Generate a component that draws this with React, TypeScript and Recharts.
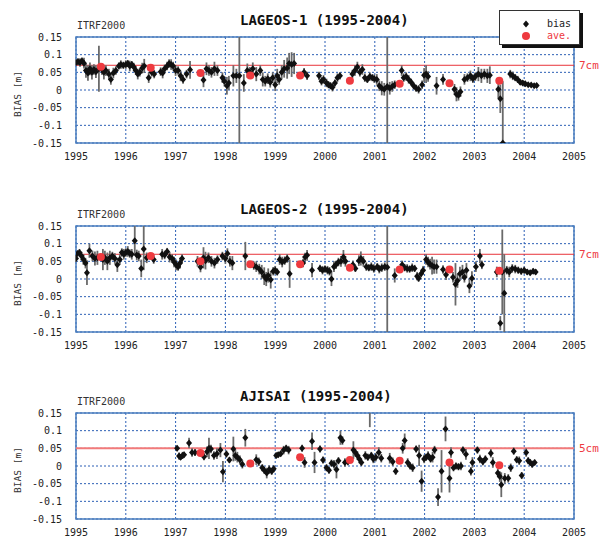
import {
  ComposedChart,
  Scatter,
  ErrorBar,
  XAxis,
  YAxis,
  CartesianGrid,
  ReferenceLine,
  ReferenceArea,
} from "recharts";

// axis ticks
const YEAR_TICKS = [1995, 1996, 1997, 1998, 1999, 2000, 2001, 2002, 2003, 2004, 2005];
const BIAS_TICKS = [-0.15, -0.1, -0.05, 0, 0.05, 0.1, 0.15];

// yearly averages (plotted at mid-year)
const AVE_YEARS = [1995.5, 1996.5, 1997.5, 1998.5, 1999.5, 2000.5, 2001.5, 2002.5, 2003.5];
const AJISAI_AVE_YEARS = [1997.5, 1998.5, 1999.5, 2000.5, 2001.5, 2002.5, 2003.5];
const LAGEOS1_AVE = [0.066, 0.063, 0.048, 0.041, 0.041, 0.026, 0.018, 0.019, 0.026];
const LAGEOS2_AVE = [0.062, 0.065, 0.05, 0.042, 0.042, 0.032, 0.027, 0.027, 0.023];
const AJISAI_AVE = [0.037, 0.007, 0.025, 0.017, 0.015, 0.01, 0.002];

// LAGEOS-1 biases; err is [down, up] where a bar runs off the plot
const LAGEOS1_YEAR = [
  1995.0, 1995.04, 1995.08, 1995.12, 1995.16, 1995.2, 1995.24, 1995.28, 1995.32, 1995.36, 1995.4, 1995.46,
  1995.52, 1995.56, 1995.6, 1995.66, 1995.7, 1995.75, 1995.8, 1995.86, 1995.9, 1995.95, 1996.0, 1996.04,
  1996.08, 1996.12, 1996.16, 1996.2, 1996.24, 1996.28, 1996.33, 1996.37, 1996.46, 1996.52, 1996.57, 1996.7,
  1996.74, 1996.78, 1996.83, 1996.87, 1996.91, 1996.95, 1997.0, 1997.05, 1997.1, 1997.15, 1997.22, 1997.29,
  1997.56, 1997.62, 1997.67, 1997.72, 1997.78, 1997.84, 1997.94, 1997.98, 1998.03, 1998.07, 1998.16, 1998.22,
  1998.28, 1998.37, 1998.44, 1998.49, 1998.55, 1998.62, 1998.7, 1998.75, 1998.8, 1998.85, 1998.9, 1998.95,
  1999.0, 1999.04, 1999.08, 1999.13, 1999.18, 1999.24, 1999.28, 1999.33, 1999.38, 1999.58, 1999.64, 1999.88,
  1999.93, 1999.97, 2000.03, 2000.07, 2000.11, 2000.15, 2000.2, 2000.25, 2000.3, 2000.55, 2000.6, 2000.65,
  2000.7, 2000.75, 2000.8, 2000.85, 2000.9, 2000.95, 2000.99, 2001.04, 2001.09, 2001.14, 2001.19, 2001.25,
  2001.3, 2001.35, 2001.4, 2001.54, 2001.58, 2001.63, 2001.68, 2001.73, 2001.78, 2001.83, 2001.88, 2001.95,
  2001.99, 2002.03, 2002.07, 2002.24, 2002.37, 2002.6, 2002.64, 2002.68, 2002.72, 2002.8, 2002.86, 2002.92,
  2002.97, 2003.02, 2003.08, 2003.14, 2003.2, 2003.26, 2003.31, 2003.48, 2003.52, 2003.57, 2003.72, 2003.77,
  2003.82, 2003.87, 2003.92, 2003.97, 2004.02, 2004.08, 2004.14, 2004.2, 2004.25,
];
const LAGEOS1_BIAS = [
  0.078, 0.08, 0.078, 0.082, 0.076, 0.055, 0.048, 0.06, 0.05, 0.058, 0.052, 0.06,
  0.058, 0.05, 0.055, 0.045, 0.03, 0.048, 0.055, 0.068, 0.072, 0.07, 0.072, 0.075,
  0.068, 0.072, 0.065, 0.055, 0.045, 0.05, 0.062, 0.068, 0.035, 0.05, 0.045, 0.052,
  0.048, 0.06, 0.068, 0.075, 0.072, 0.068, 0.055, 0.055, 0.04, 0.03, 0.045, 0.057,
  0.028, 0.06, 0.055, 0.05, 0.06, 0.055, 0.035, 0.025, 0.012, 0.02, 0.04, 0.04,
  0.04, 0.02, 0.055, 0.05, 0.06, 0.045, 0.055, 0.03, 0.025, 0.032, 0.022, 0.035,
  0.015, 0.04, 0.03, 0.05, 0.06, 0.062, 0.075, 0.072, 0.075, 0.05, 0.04, 0.04,
  0.025, 0.03, 0.02, 0.015, 0.012, 0.008, 0.02, 0.035, 0.04, 0.045, 0.055, 0.065,
  0.05, 0.058, 0.035, 0.03, 0.038, 0.035, 0.032, 0.03, 0.012, 0.005, 0.002, 0.01,
  0.005, 0.01, 0.015, 0.055, 0.035, 0.038, 0.03, 0.022, 0.012, 0.005, 0.002, 0.015,
  0.042, 0.045, 0.038, 0.012, 0.03, 0.002, -0.012, -0.015, -0.005, 0.03, 0.035, 0.04,
  0.032, 0.038, 0.045, 0.04, 0.045, 0.04, 0.042, 0.002, -0.025, -0.15, 0.045, 0.04,
  0.035, 0.03, 0.022, 0.02, 0.018, 0.015, 0.014, 0.012, 0.013,
];
const LAGEOS1_ERR: (number | number[])[] = [
  0.008, 0.01, 0.012, 0.01, 0.015, 0.02, 0.022, 0.018, 0.02, 0.015, 0.018, 0.065,
  0.015, 0.02, 0.015, 0.015, 0.015, 0.015, 0.012, 0.01, 0.012, 0.01, 0.012, 0.01,
  0.015, 0.01, 0.012, 0.012, 0.015, 0.012, 0.015, 0.02, 0.015, 0.012, 0.012, 0.012,
  0.015, 0.012, 0.012, 0.012, 0.015, 0.012, 0.015, 0.012, 0.015, 0.012, 0.012, 0.025,
  0.02, 0.018, 0.015, 0.015, 0.02, 0.015, 0.015, 0.015, 0.025, 0.02, 0.03, 0.02,
  [0.19, 0.11], 0.025, 0.02, 0.015, 0.018, 0.02, 0.015, 0.02, 0.015, 0.015, 0.015, 0.015,
  0.018, 0.02, 0.015, 0.02, 0.025, 0.03, 0.03, 0.035, 0.03, 0.012, 0.012, 0.012,
  0.012, 0.012, 0.012, 0.01, 0.01, 0.012, 0.01, 0.012, 0.01, 0.012, 0.015, 0.015,
  0.012, 0.015, 0.012, 0.01, 0.012, 0.01, 0.012, 0.015, 0.015, 0.02, 0.018, [0.16, 0.14],
  0.018, 0.015, 0.012, 0.015, 0.012, 0.012, 0.012, 0.01, 0.01, 0.01, 0.012, 0.012,
  0.02, 0.025, 0.015, 0.025, 0.015, 0.015, 0.02, 0.015, 0.015, 0.015, 0.012, 0.015,
  0.012, 0.012, 0.02, 0.02, 0.015, 0.02, 0.025, 0.025, 0.04, [0, 0.175], 0.012, 0.012,
  0.01, 0.01, 0.008, 0.008, 0.008, 0.006, 0.006, 0.006, 0.006,
];

// LAGEOS-2 biases
const LAGEOS2_YEAR = [
  1995.0, 1995.03, 1995.07, 1995.11, 1995.15, 1995.19, 1995.22, 1995.27, 1995.33, 1995.38, 1995.43, 1995.54,
  1995.58, 1995.63, 1995.68, 1995.73, 1995.78, 1995.83, 1995.88, 1995.92, 1995.96, 1996.0, 1996.04, 1996.08,
  1996.12, 1996.18, 1996.22, 1996.26, 1996.31, 1996.36, 1996.42, 1996.56, 1996.73, 1996.78, 1996.83, 1996.88,
  1996.93, 1996.97, 1997.01, 1997.05, 1997.09, 1997.13, 1997.44, 1997.5, 1997.56, 1997.6, 1997.66, 1997.72,
  1997.78, 1997.84, 1997.94, 1998.0, 1998.04, 1998.09, 1998.14, 1998.4, 1998.57, 1998.62, 1998.68, 1998.73,
  1998.78, 1998.82, 1998.86, 1998.91, 1998.96, 1999.0, 1999.04, 1999.09, 1999.14, 1999.19, 1999.24, 1999.29,
  1999.56, 1999.6, 1999.64, 1999.74, 1999.9, 1999.95, 2000.0, 2000.05, 2000.09, 2000.13, 2000.18, 2000.22,
  2000.27, 2000.32, 2000.37, 2000.41, 2000.56, 2000.61, 2000.68, 2000.72, 2000.77, 2000.83, 2000.88, 2000.93,
  2000.98, 2001.05, 2001.09, 2001.14, 2001.2, 2001.25, 2001.4, 2001.55, 2001.6, 2001.65, 2001.7, 2001.75,
  2001.8, 2001.85, 2001.88, 2001.93, 2001.97, 2002.03, 2002.07, 2002.11, 2002.15, 2002.19, 2002.24, 2002.37,
  2002.43, 2002.57, 2002.62, 2002.66, 2002.71, 2002.76, 2002.8, 2002.84, 2002.9, 2002.95, 2003.03, 2003.11,
  2003.15, 2003.45, 2003.52, 2003.56, 2003.6, 2003.65, 2003.7, 2003.76, 2003.82, 2003.88, 2003.94, 2004.0,
  2004.06, 2004.12, 2004.18, 2004.23,
];
const LAGEOS2_BIAS = [
  0.058, 0.072, 0.075, 0.065, 0.055, 0.045, 0.018, 0.08, 0.065, 0.058, 0.06, 0.055,
  0.06, 0.05, 0.06, 0.065, 0.058, 0.04, 0.055, 0.075, 0.07, 0.075, 0.078, 0.072,
  0.07, 0.108, 0.068, 0.065, 0.03, 0.085, 0.06, 0.055, 0.07, 0.068, 0.078, 0.062,
  0.058, 0.048, 0.04, 0.035, 0.045, 0.058, 0.05, 0.034, 0.06, 0.052, 0.06, 0.05,
  0.045, 0.055, 0.065, 0.058, 0.072, 0.05, 0.045, 0.065, 0.038, 0.035, 0.028, 0.02,
  0.008, 0.0, 0.01, -0.002, 0.022, 0.025, 0.02, 0.055, 0.048, 0.052, 0.058, 0.015,
  0.045, 0.062, 0.067, 0.025, 0.03, 0.025, 0.028, 0.025, 0.022, 0.0, 0.035, 0.04,
  0.048, 0.05, 0.062, 0.05, 0.04, 0.03, 0.052, 0.058, 0.05, 0.035, 0.032, 0.035,
  0.03, 0.035, 0.028, 0.032, 0.035, 0.033, 0.01, 0.04, 0.032, 0.03, 0.028, 0.032,
  0.03, 0.008, 0.002, 0.015, 0.025, 0.055, 0.048, 0.042, 0.038, 0.035, 0.035, 0.027,
  0.012, 0.005, -0.015, -0.005, 0.015, 0.02, 0.005, 0.025, -0.02, 0.002, 0.035, 0.065,
  0.04, 0.02, -0.125, 0.02, -0.04, 0.025, 0.02, 0.03, 0.028, 0.025, 0.022, 0.025,
  0.02, 0.018, 0.022, 0.02,
];
const LAGEOS2_ERR: (number | number[])[] = [
  0.01, 0.008, 0.01, 0.012, 0.015, 0.015, 0.035, 0.02, 0.015, 0.02, 0.02, 0.03,
  0.02, 0.025, 0.02, 0.012, 0.015, 0.02, 0.015, 0.012, 0.015, 0.012, 0.015, 0.012,
  0.015, [0.04, 0.042], 0.015, 0.015, 0.025, [0.06, 0.065], 0.015, 0.012, 0.015, 0.012, 0.01, 0.015,
  0.012, 0.015, 0.015, 0.012, 0.015, 0.012, 0.015, 0.015, 0.03, 0.025, 0.015, 0.015,
  0.015, 0.012, 0.012, 0.015, 0.015, 0.015, 0.02, 0.04, 0.012, 0.015, 0.015, 0.02,
  0.025, 0.02, 0.02, 0.025, 0.012, 0.012, 0.01, 0.015, 0.015, 0.012, 0.012, 0.04,
  0.012, 0.012, 0.015, 0.02, 0.01, 0.012, 0.01, 0.012, 0.012, 0.02, 0.015, 0.012,
  0.012, 0.015, 0.02, 0.015, 0.012, 0.01, 0.015, 0.02, 0.015, 0.012, 0.01, 0.012,
  0.012, 0.01, 0.012, 0.012, 0.012, [0.183, 0.117], 0.02, 0.012, 0.01, 0.012, 0.01, 0.012,
  0.01, 0.012, 0.01, 0.01, 0.012, 0.015, 0.015, 0.015, 0.025, 0.02, 0.02, 0.012,
  0.015, 0.015, 0.06, 0.02, 0.02, 0.02, 0.015, 0.02, 0.02, 0.02, 0.015, 0.02,
  0.012, 0.015, 0.02, 0.12, [0.11, 0.11], 0.012, 0.015, 0.012, 0.012, 0.01, 0.01, 0.01,
  0.008, 0.008, 0.008, 0.008,
];

// AJISAI biases
const AJISAI_YEAR = [
  1997.03, 1997.07, 1997.1, 1997.14, 1997.17, 1997.27, 1997.33, 1997.39, 1997.57, 1997.63, 1997.67, 1997.71,
  1997.77, 1997.83, 1997.9, 1997.95, 1998.02, 1998.08, 1998.16, 1998.2, 1998.24, 1998.29, 1998.34, 1998.4,
  1998.62, 1998.67, 1998.74, 1998.78, 1998.83, 1998.88, 1998.93, 1998.97, 1999.02, 1999.06, 1999.11, 1999.17,
  1999.22, 1999.27, 1999.54, 1999.59, 1999.74, 1999.79, 1999.9, 1999.96, 2000.03, 2000.08, 2000.13, 2000.18,
  2000.23, 2000.27, 2000.31, 2000.35, 2000.4, 2000.46, 2000.57, 2000.61, 2000.65, 2000.69, 2000.73, 2000.81,
  2000.86, 2000.9, 2000.93, 2000.97, 2001.02, 2001.08, 2001.13, 2001.3, 2001.36, 2001.42, 2001.56, 2001.6,
  2001.66, 2001.71, 2001.76, 2001.83, 2001.89, 2001.94, 2001.99, 2002.03, 2002.07, 2002.12, 2002.16, 2002.2,
  2002.27, 2002.34, 2002.42, 2002.5, 2002.53, 2002.58, 2002.63, 2002.68, 2002.73, 2002.77, 2002.83, 2002.93,
  2002.96, 2003.06, 2003.11, 2003.17, 2003.22, 2003.33, 2003.37, 2003.47, 2003.51, 2003.54, 2003.61, 2003.68,
  2003.73, 2003.79, 2003.85, 2003.9, 2003.95, 2004.04, 2004.08, 2004.12, 2004.16, 2004.21,
];
const AJISAI_BIAS = [
  0.05, 0.028, 0.025, 0.03, 0.032, 0.065, 0.038, 0.038, 0.026, 0.04, 0.05, 0.048,
  0.03, 0.035, 0.045, -0.016, 0.034, 0.017, 0.048, 0.03, 0.025, 0.018, 0.005, 0.08,
  0.018, 0.012, -0.005, -0.012, -0.02, -0.01, -0.015, -0.008, 0.03, 0.032, 0.035, 0.045,
  0.05, 0.045, 0.05, 0.01, 0.07, 0.01, 0.048, 0.017, -0.005, -0.012, 0.008, 0.005,
  -0.01, 0.015, 0.08, 0.072, 0.01, 0.012, 0.045, 0.038, 0.03, 0.02, 0.01, 0.03,
  0.025, 0.16, 0.03, 0.02, 0.025, 0.038, 0.022, 0.022, 0.012, -0.015, 0.05, 0.072,
  0.01, 0.0, -0.005, 0.048, 0.03, -0.043, 0.02, 0.025, 0.03, 0.02, 0.025, 0.045,
  -0.088, -0.015, 0.105, -0.035, 0.038, -0.005, 0.0, -0.002, 0.0, 0.045, 0.033, -0.015,
  0.01, 0.045, 0.02, 0.012, 0.02, 0.036, 0.01, -0.02, -0.03, -0.053, -0.035, -0.035,
  -0.005, 0.042, 0.018, 0.015, -0.027, 0.038, 0.015, 0.01, 0.005, 0.01,
];
const AJISAI_ERR: (number | number[])[] = [
  0.008, 0.01, 0.008, 0.01, 0.008, 0.015, 0.012, 0.01, 0.01, 0.015, 0.03, 0.012,
  0.012, 0.015, 0.02, 0.03, 0.01, 0.008, 0.035, 0.015, 0.015, 0.012, 0.012, 0.025,
  0.015, 0.012, 0.01, 0.01, 0.015, 0.012, 0.01, 0.01, 0.008, 0.008, 0.008, 0.012,
  0.01, 0.012, 0.01, 0.015, 0.025, 0.03, 0.01, 0.01, 0.01, 0.01, 0.01, 0.012,
  0.025, 0.01, 0.02, 0.012, 0.012, 0.01, 0.025, 0.012, 0.012, 0.012, 0.01, 0.012,
  0.01, [0.05, -0.01], 0.01, 0.012, 0.012, 0.015, 0.012, 0.015, 0.012, 0.01, 0.015, 0.02,
  0.012, 0.01, 0.012, 0.01, 0.03, 0.03, 0.012, 0.01, 0.012, 0.01, 0.015, 0.012,
  0.025, 0.06, 0.035, 0.04, 0.015, 0.01, 0.01, 0.01, 0.012, 0.01, 0.015, 0.012,
  0.015, 0.01, 0.012, 0.01, 0.01, 0.012, 0.015, 0.012, 0.015, 0.035, 0.015, 0.012,
  0.012, 0.01, 0.01, 0.012, 0.01, 0.012, 0.01, 0.01, 0.01, 0.008,
];

const MONO = "'DejaVu Sans Mono', monospace";
const RED = "#ee3a3f";

const Diamond = (props: any) => {
  const { cx, cy } = props;
  if (cx == null || cy == null) return null;
  return <path d={`M${cx},${cy - 3.5}L${cx + 3},${cy}L${cx},${cy + 3.5}L${cx - 3},${cy}Z`} fill="#111" />;
};

const AveDot = (props: any) => {
  const { cx, cy } = props;
  if (cx == null || cy == null) return null;
  return <circle cx={cx} cy={cy} r={4} fill={RED} />;
};

interface PanelProps {
  title: string;
  top: number;
  years: number[];
  bias: number[];
  err: (number | number[])[];
  aveYears: number[];
  ave: number[];
  refValue: number;
  refLabel: string;
  refColor: string;
  refWidth: number;
  legend?: boolean;
}

function Panel({ title, top, years, bias, err, aveYears, ave, refValue, refLabel, refColor, refWidth, legend }: PanelProps) {
  const points = years.map((y, i) => ({ year: y, bias: bias[i], err: err[i] }));
  const aves = aveYears.map((y, i) => ({ year: y, bias: ave[i] }));

  return (
    <div style={{ position: "absolute", left: 0, top, width: 602, height: 170 }}>
      <ComposedChart width={602} height={170} margin={{ top: 37, right: 28, bottom: 0, left: 0 }}>
        <CartesianGrid stroke="#2c5fb5" strokeDasharray="2 2" />
        <XAxis
          type="number"
          dataKey="year"
          domain={[1995, 2005]}
          ticks={YEAR_TICKS}
          allowDataOverflow
          height={27}
          axisLine={false}
          tickLine={false}
          tickSize={0}
          tickMargin={10}
          interval={0}
          tick={{ fontSize: 10, fill: "#222", fontFamily: MONO }}
        />
        <YAxis
          type="number"
          dataKey="bias"
          domain={[-0.15, 0.15]}
          ticks={BIAS_TICKS}
          allowDataOverflow
          width={76}
          axisLine={false}
          tickLine={false}
          tickSize={0}
          tickMargin={14}
          interval={0}
          tickFormatter={(v: number) => String(v)}
          tick={{ fontSize: 10, fill: "#222", fontFamily: MONO }}
        />
        <ReferenceLine
          y={refValue}
          stroke={refColor}
          strokeWidth={refWidth}
          label={{ value: refLabel, position: "right", fill: RED, fontSize: 11, fontFamily: MONO }}
        />
        <Scatter data={points} shape={Diamond} isAnimationActive={false}>
          <ErrorBar dataKey="err" direction="y" width={0} stroke="#6a6a6a" strokeWidth={1.8} />
        </Scatter>
        <Scatter data={aves} shape={AveDot} isAnimationActive={false} />
        <ReferenceArea x1={1995} x2={2005} y1={-0.15} y2={0.15} fill="none" stroke="#4a7ebf" strokeWidth={1.5} ifOverflow="visible" />
      </ComposedChart>

      <div style={{ position: "absolute", left: 240, top: 12, fontFamily: MONO, fontWeight: "bold", fontSize: 14, lineHeight: "16px", whiteSpace: "pre", color: "#111" }}>
        {title}
      </div>
      <div style={{ position: "absolute", left: 77, top: 20, fontFamily: MONO, fontSize: 10, lineHeight: "12px", color: "#333" }}>
        ITRF2000
      </div>
      <div
        style={{
          position: "absolute", left: -12, top: 88, width: 60, height: 12, textAlign: "center",
          fontFamily: MONO, fontSize: 9.5, lineHeight: "12px", color: "#333", transform: "rotate(-90deg)", whiteSpace: "pre",
        }}
      >
        BIAS [m]
      </div>

      {legend && (
        <div style={{ position: "absolute", left: 499, top: 10, width: 79, height: 33, border: "1px solid #333", boxShadow: "3px 3px 0 #111", background: "#fff" }}>
          <svg width={20} height={33} style={{ position: "absolute", left: 16, top: 0 }}>
            <path d="M10,9.5L13,13L10,16.5L7,13Z" fill="#111" />
            <circle cx={10} cy={25} r={4} fill={RED} />
          </svg>
          <div style={{ position: "absolute", left: 47, top: 7, fontFamily: MONO, fontSize: 10, lineHeight: "12px", color: "#222" }}>bias</div>
          <div style={{ position: "absolute", left: 47, top: 19, fontFamily: MONO, fontSize: 10, lineHeight: "12px", color: RED }}>ave.</div>
        </div>
      )}
    </div>
  );
}

export default function App() {
  return (
    <div style={{ position: "absolute", left: 0, top: 0, width: 602, height: 542, background: "#fff", overflow: "hidden" }}>
      <Panel
        title="LAGEOS-1 (1995-2004)"
        top={0}
        years={LAGEOS1_YEAR}
        bias={LAGEOS1_BIAS}
        err={LAGEOS1_ERR}
        aveYears={AVE_YEARS}
        ave={LAGEOS1_AVE}
        refValue={0.07}
        refLabel="7cm"
        refColor="#e8333a"
        refWidth={1}
        legend
      />
      <Panel
        title="LAGEOS-2 (1995-2004)"
        top={189}
        years={LAGEOS2_YEAR}
        bias={LAGEOS2_BIAS}
        err={LAGEOS2_ERR}
        aveYears={AVE_YEARS}
        ave={LAGEOS2_AVE}
        refValue={0.07}
        refLabel="7cm"
        refColor="#e8333a"
        refWidth={1}
      />
      <Panel
        title="AJISAI (1995-2004)"
        top={376}
        years={AJISAI_YEAR}
        bias={AJISAI_BIAS}
        err={AJISAI_ERR}
        aveYears={AJISAI_AVE_YEARS}
        ave={AJISAI_AVE}
        refValue={0.05}
        refLabel="5cm"
        refColor="#f27a7a"
        refWidth={2}
      />
    </div>
  );
}
